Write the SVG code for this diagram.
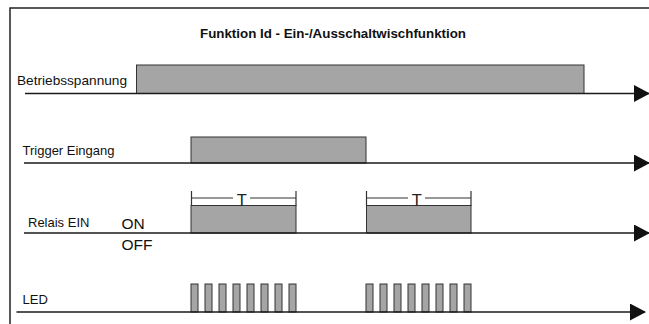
<svg xmlns="http://www.w3.org/2000/svg" width="649" height="324" viewBox="0 0 649 324">
<defs>
<style>
.lbl{font-family:"Liberation Sans",Arial,sans-serif;font-size:13px;fill:#111}
.big{font-family:"Liberation Sans",Arial,sans-serif;font-size:15.5px;fill:#111}
.tt{font-family:"Liberation Sans",Arial,sans-serif;font-size:16.5px;fill:#222}
.ttl{font-family:"Liberation Sans",Arial,sans-serif;font-size:12.5px;font-weight:bold;fill:#111}
.sig{fill:#a5a5a5;stroke:#333;stroke-width:1}
.axis{stroke:#1a1a1a;stroke-width:1.3;fill:none}
.frame{stroke:#222;stroke-width:1.5;fill:none}
.brk{stroke:#333;stroke-width:1.2;fill:none}
</style>
<marker id="arr" markerUnits="userSpaceOnUse" markerWidth="16" markerHeight="17" refX="15" refY="8.5" orient="auto">
<path d="M0,0 L16,8.5 L0,17 Z" fill="#111"/>
</marker>
</defs>
<rect width="649" height="324" fill="#fff"/>
<path class="frame" d="M10,324 V8 H649"/>
<text class="ttl" x="333" y="38" text-anchor="middle" textLength="266" lengthAdjust="spacingAndGlyphs">Funktion Id - Ein-/Ausschaltwischfunktion</text>

<g id="betriebsspannung">
<text class="lbl" x="17" y="85" textLength="110" lengthAdjust="spacingAndGlyphs">Betriebsspannung</text>
<rect class="sig" x="136.5" y="65" width="447.5" height="28.5"/>
</g>

<g id="trigger">
<text class="lbl" x="22.5" y="155">Trigger Eingang</text>
<rect class="sig" x="191" y="137" width="175" height="26"/>
</g>

<g id="relais">
<text class="lbl" x="28" y="226.5">Relais EIN</text>
<text class="big" x="121.5" y="228.5">ON</text>
<text class="big" x="121.5" y="249.5">OFF</text>
<rect class="sig" x="191" y="205.5" width="105" height="27.5"/>
<rect class="sig" x="366.5" y="205.5" width="104.5" height="27.5"/>
<path class="brk" d="M191.5,191 V206 M296,191 V206 M191.5,198 H233 M250,198 H296"/>
<text class="tt" x="241.7" y="206" text-anchor="middle">T</text>
<path class="brk" d="M366.5,191 V206 M471,191 V206 M366.5,198 H408 M425,198 H471"/>
<text class="tt" x="416.7" y="206" text-anchor="middle">T</text>
</g>

<g id="led">
<text class="lbl" x="22.5" y="304">LED</text>
<rect class="sig" x="191" y="284" width="7" height="28"/>
<rect class="sig" x="205" y="284" width="7" height="28"/>
<rect class="sig" x="219" y="284" width="7" height="28"/>
<rect class="sig" x="233" y="284" width="7" height="28"/>
<rect class="sig" x="247" y="284" width="7" height="28"/>
<rect class="sig" x="261" y="284" width="7" height="28"/>
<rect class="sig" x="275" y="284" width="7" height="28"/>
<rect class="sig" x="289" y="284" width="7" height="28"/>
<rect class="sig" x="366" y="284" width="7" height="28"/>
<rect class="sig" x="380" y="284" width="7" height="28"/>
<rect class="sig" x="394" y="284" width="7" height="28"/>
<rect class="sig" x="408" y="284" width="7" height="28"/>
<rect class="sig" x="422" y="284" width="7" height="28"/>
<rect class="sig" x="436" y="284" width="7" height="28"/>
<rect class="sig" x="450" y="284" width="7" height="28"/>
<rect class="sig" x="464" y="284" width="7" height="28"/>
</g>

<g id="connectors">
<line class="axis" x1="25" y1="93.5" x2="649" y2="93.5" marker-end="url(#arr)" stroke="#444"/>
<line class="axis" x1="24" y1="163" x2="649" y2="163" marker-end="url(#arr)"/>
<line class="axis" x1="24" y1="233" x2="649" y2="233" marker-end="url(#arr)"/>
<line class="axis" x1="16.5" y1="312" x2="645" y2="312" marker-end="url(#arr)"/>
</g>
</svg>
